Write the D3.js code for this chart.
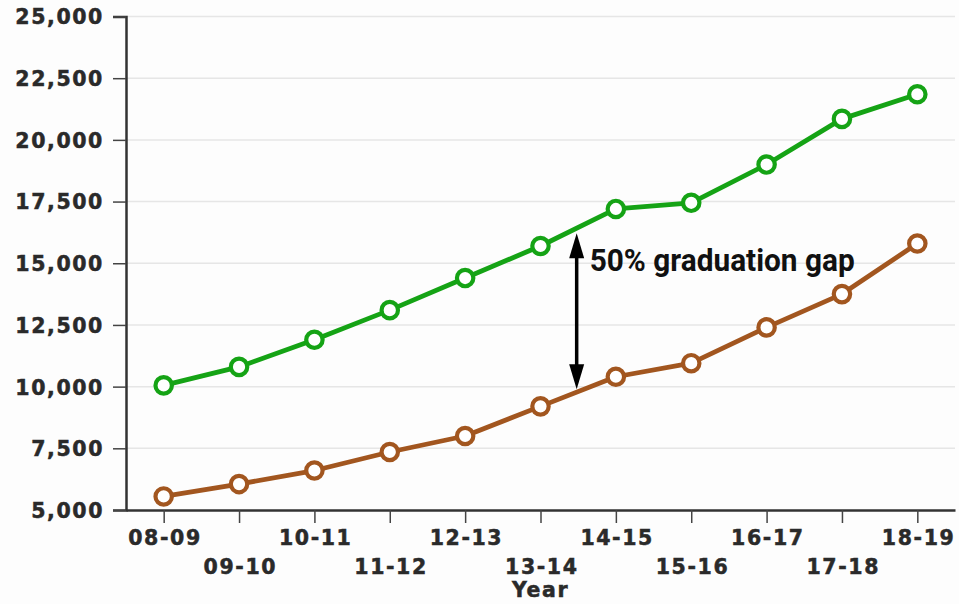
<!DOCTYPE html>
<html>
<head>
<meta charset="utf-8">
<script src="https://cdn.jsdelivr.net/npm/d3@7/dist/d3.min.js"></script>
<style>
  html, body { margin: 0; padding: 0; background: #fdfdfd; }
  svg { display: block; }
  .tick text, .axis-title {
    font-family: "DejaVu Sans", sans-serif; font-weight: bold; fill: #2a2a2a;
    stroke: #2a2a2a; stroke-width: 0.5px; letter-spacing: 1.6px;
  }
</style>
</head>
<body>
<script>
// School years on the x axis
const years = ["08-09","09-10","10-11","11-12","12-13","13-14","14-15","15-16","16-17","17-18","18-19"];
// Graduates per year, two groups
const upperSeries = [10050, 10800, 11900, 13100, 14400, 15700, 17200, 17450, 19000, 20850, 21850];
const lowerSeries = [5550, 6050, 6600, 7350, 8000, 9200, 10400, 10950, 12400, 13750, 15800];
const yTicks = [5000, 7500, 10000, 12500, 15000, 17500, 20000, 22500, 25000];
const annotationText = "50% graduation gap";
const xTitle = "Year";

const W = 959, H = 604;
const plotLeft = 126, plotRight = 955, plotTop = 16.5, plotBottom = 510;

const svg = d3.select("body").append("svg").attr("width", W).attr("height", H);

const x = d3.scalePoint().domain(years).range([plotLeft, plotRight]).padding(0.5);
const y = d3.scaleLinear().domain([5000, 25000]).range([plotBottom, plotTop]);

// light horizontal gridlines
svg.append("g").selectAll("line").data(yTicks.slice(1)).join("line")
  .attr("x1", plotLeft).attr("x2", plotRight)
  .attr("y1", d => y(d)).attr("y2", d => y(d))
  .attr("stroke", "#e6e6e6").attr("stroke-width", 1.5);

// y axis
const yAxis = svg.append("g").attr("transform", `translate(${plotLeft},0)`)
  .call(d3.axisLeft(y).tickValues(yTicks).tickFormat(d3.format(",")).tickSize(13).tickPadding(9));
yAxis.selectAll("text").attr("font-size", 20.5).attr("dy", "0.36em");

// x axis with staggered labels
const xAxis = svg.append("g").attr("transform", `translate(0,${plotBottom})`)
  .call(d3.axisBottom(x).tickSizeInner(13).tickSizeOuter(0).tickPadding(8));
xAxis.selectAll("text").attr("font-size", 20.5)
  .attr("x", 0.8)
  .attr("y", (d, i) => i % 2 === 0 ? 20 : 49)
  .attr("dy", "0.72em");
[yAxis, xAxis].forEach(g => {
  g.selectAll(".domain").attr("stroke", "#333").attr("stroke-width", 2.5);
  g.selectAll(".tick line").attr("stroke", "#444").attr("stroke-width", 1.5);
});

svg.append("text").attr("class", "axis-title")
  .attr("x", x("13-14")).attr("y", 597)
  .attr("text-anchor", "middle").attr("font-size", 20.5).text(xTitle);

const line = d3.line().x((d, i) => x(years[i])).y(d => y(d));

function drawSeries(values, color) {
  svg.append("path").datum(values)
    .attr("d", line).attr("fill", "none")
    .attr("stroke", color).attr("stroke-width", 4.8).attr("stroke-linejoin", "round");
  svg.append("g").selectAll("circle").data(values).join("circle")
    .attr("cx", (d, i) => x(years[i])).attr("cy", d => y(d)).attr("r", 8.2)
    .attr("fill", "#fff").attr("stroke", color).attr("stroke-width", 4.2);
}
drawSeries(upperSeries, "#15a315");
drawSeries(lowerSeries, "#a2561f");

// double-headed arrow between the two lines, between 13-14 and 14-15
const i0 = years.indexOf("13-14"), f = 0.48;
const ax = x(years[i0]) + f * (x(years[i0 + 1]) - x(years[i0]));
const upAt = upperSeries[i0] + f * (upperSeries[i0 + 1] - upperSeries[i0]);
const loAt = lowerSeries[i0] + f * (lowerSeries[i0 + 1] - lowerSeries[i0]);
const yTop = y(upAt) + 5, yBot = y(loAt) - 3;
const headL = 25, headW = 7.5;
svg.append("line").attr("x1", ax).attr("x2", ax)
  .attr("y1", yTop + headL - 2).attr("y2", yBot - headL + 2)
  .attr("stroke", "#000").attr("stroke-width", 3.5);
svg.append("path")
  .attr("d", `M${ax},${yTop}L${ax + headW},${yTop + headL}L${ax - headW},${yTop + headL}Z`)
  .attr("fill", "#000");
svg.append("path")
  .attr("d", `M${ax},${yBot}L${ax + headW},${yBot - headL}L${ax - headW},${yBot - headL}Z`)
  .attr("fill", "#000");

svg.append("text")
  .attr("x", ax + 13).attr("y", 271)
  .attr("font-family", "Roboto, sans-serif").attr("font-weight", "bold")
  .attr("font-size", 32).attr("fill", "#111")
  .attr("textLength", 265).attr("lengthAdjust", "spacingAndGlyphs")
  .text(annotationText);
</script>
</body>
</html>
